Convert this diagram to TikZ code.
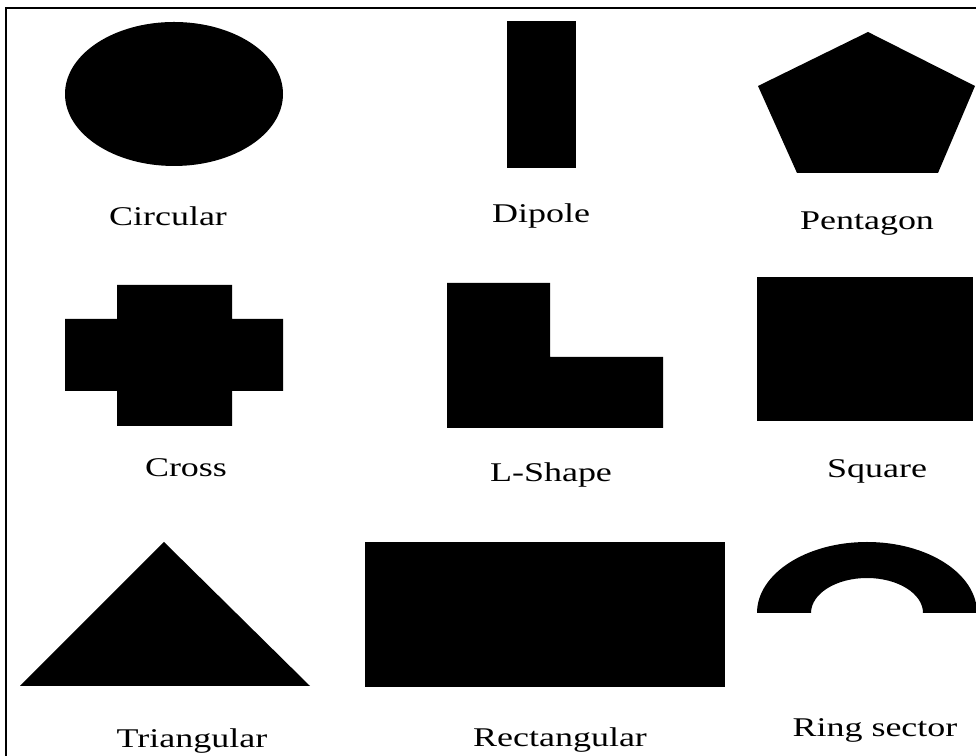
\documentclass[tikz,border=0pt]{standalone}
\usepackage{fontspec}
\newfontfamily\lblfont[FakeStretch=1.33]{Liberation Serif}

\begin{document}
\begin{tikzpicture}[x=0.02cm, y=0.02cm]
    % Define styles
    \tikzstyle{frame} = [draw=black, line width=1.2pt]
    \tikzstyle{solid} = [fill=black]
    \tikzstyle{label} = [anchor=base, inner sep=0pt, font=\lblfont\fontsize{15.4}{18}\selectfont]

    \useasboundingbox (0,0) rectangle (976,756);
    \path [frame] (6,0) |- (976,748);

    % Top row
    \fill [solid] (174,662) ellipse [x radius=109, y radius=72];
    \fill [solid] (507,735) rectangle (576,588);
    \fill [solid] (868,724) -- (975,670) -- (938,583) -- (797,583) -- (758,670) -- cycle;

    % Middle row
    \fill [solid] (117,330) rectangle (232,471) (65,365) rectangle (283,437);
    \fill [solid] (447,473) -- (550,473) -- (550,399) -- (663,399) -- (663,328) -- (447,328) -- cycle;
    \fill [solid] (757,479) rectangle (973,335);

    % Bottom row
    \fill [solid] (164,214) -- (310,70) -- (20,70) -- cycle;
    \fill [solid] (365,214) rectangle (725,69);
    \fill [solid] (757,143) arc [start angle=180, end angle=0, x radius=110, y radius=71]
        -- (923,143) arc [start angle=0, end angle=180, x radius=56, y radius=35] -- cycle;

    % Place nodes
    \node [label] (circular) at (168,530) {Circular};
    \node [label] (dipole) at (541,533) {Dipole};
    \node [label] (pentagon) at (867,526) {Pentagon};
    \node [label] (cross) at (186,279) {Cross};
    \node [label] (lshape) at (551,274) {L-Shape};
    \node [label] (square) at (877,278) {Square};
    \node [label] (triangular) at (192,8) {Triangular};
    \node [label] (rectangular) at (560,9) {Rectangular};
    \node [label] (ringsector) at (875,19) {Ring sector};
\end{tikzpicture}
\end{document}
